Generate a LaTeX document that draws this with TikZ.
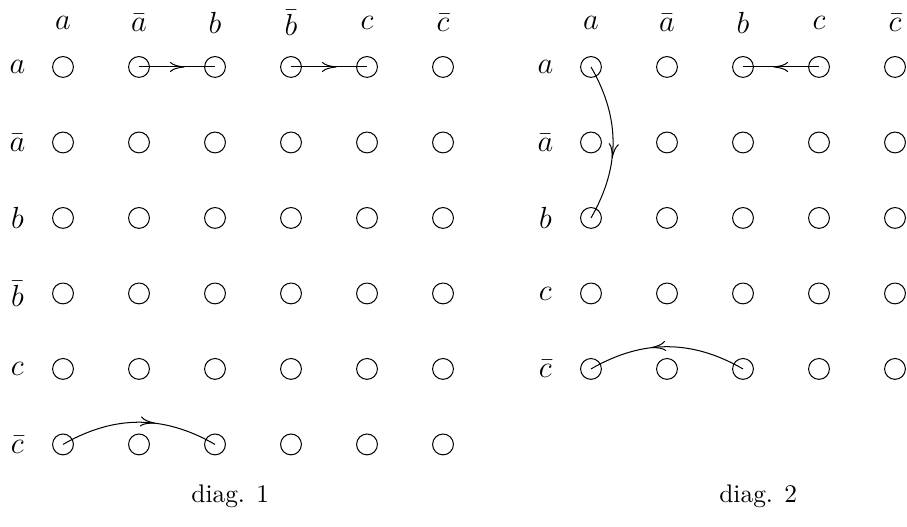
\documentclass[tikz,border=0pt]{standalone}
\usetikzlibrary{decorations.markings,arrows.meta}
\tikzset{
  site/.style={
    shape = circle,
    draw,
    inner sep = 0pt,
    minimum size = 8.2pt
  },
  flow/.style={
    postaction = {decorate},
    decoration = {markings,
      mark = at position 0.6 with {\arrow{To[length=5.8pt,width=4pt]}}}
  },
  every picture/.style = {
    font=\large
  }
}

\begin{document}
\begin{tikzpicture}[x=29.9pt,y=-29.7pt]
            \useasboundingbox (-0.829,-0.887) rectangle (11.105,6.093);
            % diag. 1
            \foreach \r/\lab in {1/a,2/\bar a,3/b,4/\bar b,5/c,6/\bar c}{
                    \node (pr\r) at (-0.6,\r-1) {$\lab$};
                    \node (pc\r) at (\r-1,-0.58) {$\lab$};
                    \foreach \c in {1,...,6}
                        \node[site] (p\r\c) at (\c-1,\r-1) {};
                }
            \draw[flow] (p12.center) -- (p13.center);
            \draw[flow] (p14.center) -- (p15.center);
            \draw[flow] (p61.center) to[bend left=30] (p63.center);
            \node[anchor=base,font=\normalsize] (cap1) at (2.2,5.775) {diag. 1};
            % diag. 2
            \begin{scope}[xshift=6.947*29.9pt]
            \foreach \r/\lab in {1/a,2/\bar a,3/b,4/c,5/\bar c}{
                    \node (qr\r) at (-0.6,\r-1) {$\lab$};
                    \node (qc\r) at (\r-1,-0.58) {$\lab$};
                    \foreach \c in {1,...,5}
                        \node[site] (q\r\c) at (\c-1,\r-1) {};
                }
            \draw[flow] (q14.center) -- (q13.center);
            \draw[flow] (q11.center) to[bend left=30] (q31.center);
            \draw[flow] (q53.center) to[bend right=30] (q51.center);
            \node[anchor=base,font=\normalsize] (cap2) at (2.2,5.775) {diag. 2};
            \end{scope}
\end{tikzpicture}
\end{document}
